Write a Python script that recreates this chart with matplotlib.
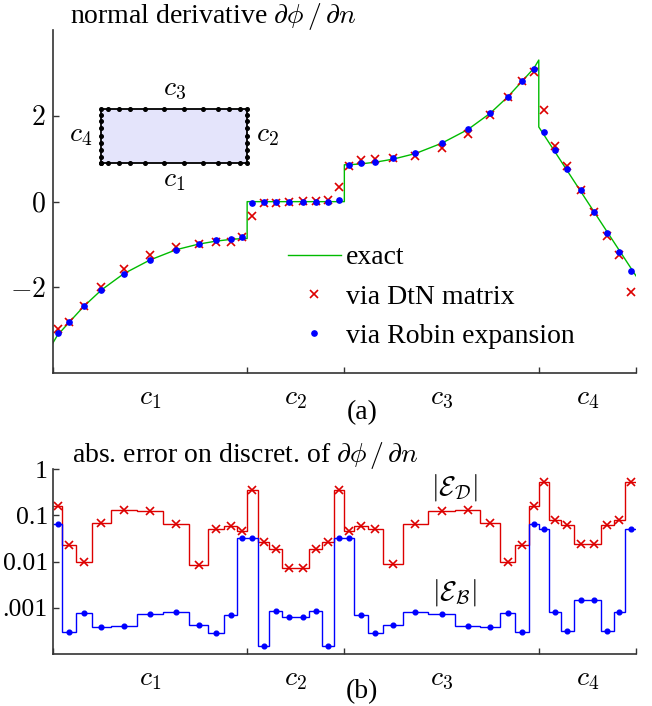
import matplotlib
matplotlib.use("Agg")
import matplotlib.pyplot as plt
import numpy as np

plt.rcParams["font.family"] = ["Liberation Serif", "DejaVu Serif"]
plt.rcParams["mathtext.fontset"] = "cm"

# boundary pieces c1..c4 along the arc length s
seg_bounds = [0, 2, 3, 5, 6]
seg_names = [r"$c_1$", r"$c_2$", r"$c_3$", r"$c_4$"]

# element edges and collocation nodes
edges = [0, 0.10, 0.24, 0.40, 0.60, 0.865, 1.135, 1.40, 1.60, 1.76, 1.90, 2.0,
         2.11, 2.23, 2.36, 2.50, 2.64, 2.77, 2.89, 3.0,
         3.10, 3.24, 3.40, 3.60, 3.865, 4.135, 4.40, 4.60, 4.76, 4.90, 5.0,
         5.11, 5.23, 5.36, 5.50, 5.64, 5.77, 5.89, 6.0]
nodes = [0.05, 0.17, 0.32, 0.50, 0.73, 1.0, 1.27, 1.50, 1.68, 1.83, 1.95,
         2.055, 2.17, 2.295, 2.43, 2.57, 2.705, 2.83, 2.945,
         3.05, 3.17, 3.32, 3.50, 3.73, 4.0, 4.27, 4.50, 4.68, 4.83, 4.95,
         5.055, 5.17, 5.295, 5.43, 5.57, 5.705, 5.83, 5.945]

# exact normal derivative
exact_s = [0, 0.05, 0.17, 0.32, 0.50, 0.73, 1.0, 1.27, 1.50, 1.68, 1.83, 1.95, 2.0,
           2.0, 3.0,
           3.0, 3.05, 3.17, 3.32, 3.50, 3.73, 4.0, 4.27, 4.50, 4.68, 4.83, 4.95, 5.0,
           5.0, 5.5, 6.0]
exact_v = [-3.30, -3.11, -2.81, -2.44, -2.06, -1.68, -1.36, -1.12, -0.99, -0.92, -0.88, -0.86, -0.86,
           0.0, 0.0,
           0.86, 0.86, 0.88, 0.92, 0.99, 1.12, 1.36, 1.68, 2.06, 2.44, 2.81, 3.11, 3.30,
           1.74, 0.0, -1.73]

# via DtN matrix
dtn = [-2.96, -2.80, -2.43, -1.99, -1.56, -1.24, -1.06, -0.99, -0.95, -0.93, -0.83,
       -0.33, -0.03, -0.02, -0.01, 0.01, 0.02, 0.03, 0.35,
       0.84, 0.96, 1.00, 1.01, 1.07, 1.25, 1.57, 2.01, 2.45, 2.82, 3.01,
       2.13, 1.29, 0.82, 0.28, -0.25, -0.79, -1.25, -2.10]
# via Robin expansion
robin = [-3.05, -2.80, -2.43, -2.06, -1.68, -1.36, -1.12, -0.99, -0.90, -0.88, -0.82,
         -0.03, 0.0, 0.0, 0.0, 0.0, 0.0, 0.0, 0.04,
         0.86, 0.90, 0.93, 1.01, 1.14, 1.37, 1.70, 2.07, 2.45, 2.82, 3.08,
         1.62, 1.21, 0.76, 0.28, -0.25, -0.74, -1.18, -1.61]

# absolute errors
err_dtn = [0.16, 0.023, 0.0097, 0.070, 0.13, 0.126, 0.066, 0.0085, 0.052, 0.060, 0.045,
           0.35, 0.027, 0.019, 0.0072, 0.0072, 0.019, 0.027, 0.35,
           0.045, 0.060, 0.052, 0.0087, 0.066, 0.126, 0.13, 0.070, 0.0098, 0.023, 0.16,
           0.54, 0.081, 0.062, 0.024, 0.024, 0.062, 0.081, 0.54]
err_rob = [0.064, 3.0e-4, 7.6e-4, 3.8e-4, 4.0e-4, 7.2e-4, 8.0e-4, 4.2e-4, 2.9e-4, 6.9e-4, 0.032,
           0.032, 1.5e-4, 8.5e-4, 6.4e-4, 6.4e-4, 8.5e-4, 1.5e-4, 0.032,
           0.032, 6.9e-4, 2.9e-4, 4.2e-4, 8.0e-4, 7.2e-4, 4.0e-4, 3.8e-4, 7.6e-4, 3.0e-4, 0.064,
           0.051, 8.0e-4, 3.1e-4, 1.5e-3, 1.5e-3, 3.1e-4, 8.0e-4, 0.051]

log_ticks = [1, 0.1, 0.01, 0.001]
log_labels = ["1", "0.1", "0.01", ".001"]

RED = "#dd0000"
BLUE = "#0000ff"
GREEN = "#00bb00"
FS = 20

W, H = 652, 706
fig = plt.figure(figsize=(W / 100, H / 100), dpi=100)
ax1 = fig.add_axes([52.7 / W, 1 - 373.3 / H, 583.3 / W, 343.3 / H])
ax2 = fig.add_axes([52.7 / W, 1 - 654 / H, 583.3 / W, 184.7 / H])


def style_axis(ax):
    for side in ["top", "right"]:
        ax.spines[side].set_visible(False)
    for side in ["left", "bottom"]:
        ax.spines[side].set_color("#333333")
        ax.spines[side].set_linewidth(1.2)
    ax.set_xlim(seg_bounds[0], seg_bounds[-1])
    ax.set_xticks(seg_bounds)
    ax.set_xticklabels([])
    centers = [(a + b) / 2 for a, b in zip(seg_bounds[:-1], seg_bounds[1:])]
    ax.set_xticks(centers, seg_names, minor=True)
    ax.tick_params(axis="x", which="minor", length=0, pad=9, labelsize=FS)
    ax.tick_params(axis="both", which="major", direction="in", length=4, width=1,
                   color="#333333", labelsize=FS)
    ax.tick_params(axis="y", pad=5)


# ---- (a) normal derivative
style_axis(ax1)
ax1.plot(exact_s, exact_v, color=GREEN, lw=1.0, label="exact")
ax1.plot(nodes, dtn, ls="none", marker="x", ms=6, mew=1.2, color=RED, label="via DtN matrix")
ax1.plot(nodes, robin, ls="none", marker="o", ms=3.8, color=BLUE, label="via Robin expansion")
ax1.set_ylim(-4, 4)
ax1.set_yticks([-2, 0, 2], [r"$-2$", r"$0$", r"$2$"])
ax1.legend(loc="upper left", bbox_to_anchor=(288 / W, 1 - 245 / H),
           bbox_transform=fig.transFigure, frameon=False, fontsize=FS,
           handlelength=1.9, handletextpad=0.2, labelspacing=0.5,
           borderpad=0, borderaxespad=0)
fig.text(70 / W, 1 - 22.5 / H, r"normal derivative $\partial\phi\,/\,\partial n$",
         fontsize=FS, ha="left", va="baseline")
fig.text(362 / W, 1 - 413 / H, "(a)", fontsize=FS, ha="center", va="center")

# inset: the rectangle with its boundary elements
ins = ax1.inset_axes([0.083, 0.613, 0.25, 0.157])
ins.set_xlim(0, 2)
ins.set_ylim(0, 1)
ins.axis("off")
ins.fill([0, 2, 2, 0], [0, 0, 1, 1], color="#e4e4fb", lw=0)
ins.plot([0, 2, 2, 0, 0], [0, 0, 1, 1, 0], color="black", lw=1.3, clip_on=False)
dot_x, dot_y = [], []
for e in edges:
    if e <= 2:
        dot_x.append(e); dot_y.append(0)
    elif e <= 3:
        dot_x.append(2); dot_y.append(e - 2)
    elif e <= 5:
        dot_x.append(5 - e); dot_y.append(1)
    else:
        dot_x.append(0); dot_y.append(6 - e)
ins.plot(dot_x, dot_y, ls="none", marker="o", ms=2.6, color="black", clip_on=False)
ins.text(0.5, 1.36, seg_names[2], transform=ins.transAxes, fontsize=FS, ha="center", va="center")
ins.text(0.5, -0.32, seg_names[0], transform=ins.transAxes, fontsize=FS, ha="center", va="center")
ins.text(-0.144, 0.5, seg_names[3], transform=ins.transAxes, fontsize=FS, ha="center", va="center")
ins.text(1.137, 0.5, seg_names[1], transform=ins.transAxes, fontsize=FS, ha="center", va="center")

# ---- (b) absolute errors
style_axis(ax2)
ax2.set_yscale("log")
ax2.set_ylim(1e-4, 1)
ax2.stairs(err_dtn, edges, baseline=None, color=RED, lw=1.0)
ax2.stairs(err_rob, edges, baseline=None, color=BLUE, lw=1.0)
ax2.plot(nodes, err_dtn, ls="none", marker="x", ms=6, mew=1.2, color=RED)
ax2.plot(nodes, err_rob, ls="none", marker="o", ms=3.4, color=BLUE)
ax2.set_yticks(log_ticks, log_labels)
ax2.yaxis.set_minor_locator(matplotlib.ticker.NullLocator())
ax2.tick_params(axis="y", labelsize=18.5, pad=3.5)
ax2.text(4.13, 0.41, r"$|\mathcal{E}_\mathcal{D}|$", fontsize=FS, ha="center", va="center")
ax2.text(4.13, 0.0022, r"$|\mathcal{E}_\mathcal{B}|$", fontsize=FS, ha="center", va="center")
fig.text(72 / W, 1 - 462.3 / H, r"abs. error on discret. of $\partial\phi\,/\,\partial n$",
         fontsize=FS, ha="left", va="baseline")
fig.text(362 / W, 1 - 692 / H, "(b)", fontsize=FS, ha="center", va="center")

fig.savefig("out.png", dpi=100)
